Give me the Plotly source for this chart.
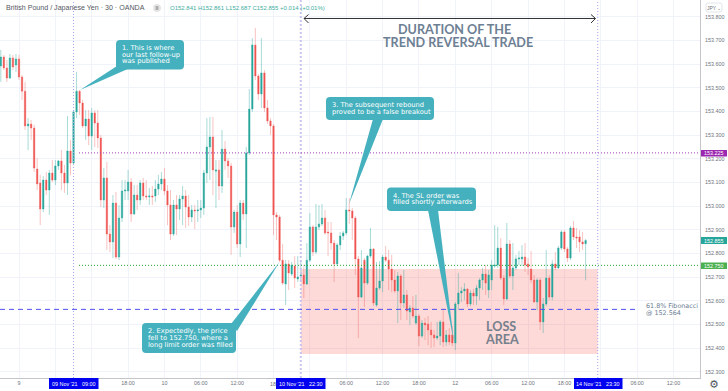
import plotly.graph_objects as go

candle_index = list(range(-6, 188))

opens = [153.592,153.630,153.584,153.541,153.626,153.596,153.622,153.546,153.486,153.339,
153.347,153.330,153.157,153.098,152.988,153.110,153.068,153.140,153.110,153.170,
153.191,153.140,153.098,153.233,153.182,153.398,153.486,153.436,153.339,153.368,
153.296,153.394,153.351,153.288,153.026,153.119,152.882,152.849,153.013,152.785,
152.950,153.064,153.064,153.102,152.967,153.047,153.026,153.098,153.043,153.039,
153.043,153.043,153.072,153.094,153.115,153.064,153.005,152.882,153.005,152.988,
153.030,153.043,152.996,152.954,152.984,152.980,152.984,152.992,153.140,153.250,
153.292,153.148,153.153,153.085,153.241,153.191,153.170,152.912,152.975,152.840,
153.013,152.967,153.225,153.410,153.681,153.550,153.474,153.563,153.415,153.360,
153.339,152.963,152.954,152.772,152.671,152.756,152.713,152.747,152.692,152.705,
152.709,152.671,152.772,152.912,152.806,152.912,152.925,152.950,152.891,152.887,
152.844,152.756,152.836,152.874,152.887,152.984,152.980,152.950,152.777,152.616,
152.772,152.675,152.789,152.819,152.582,152.654,152.684,152.785,152.772,152.734,
152.688,152.642,152.705,152.591,152.625,152.553,152.570,152.506,152.536,152.451,
152.506,152.502,152.477,152.456,152.443,152.451,152.511,152.426,152.456,152.456,
152.422,152.587,152.633,152.642,152.650,152.587,152.633,152.620,152.654,152.688,
152.713,152.646,152.688,152.747,152.751,152.823,152.696,152.608,152.840,152.705,
152.739,152.777,152.777,152.785,152.756,152.734,152.688,152.595,152.688,152.511,
152.587,152.696,152.616,152.756,152.739,152.823,152.891,152.819,152.781,152.908,
152.870,152.870,152.849,152.841]

highs = [153.660,153.639,153.618,153.643,153.639,153.643,153.639,153.554,153.525,153.372,
153.364,153.343,153.203,153.132,153.127,153.144,153.153,153.195,153.195,153.195,
153.237,153.174,153.381,153.280,153.406,153.567,153.491,153.449,153.406,153.406,
153.415,153.406,153.406,153.301,153.161,153.187,152.920,153.047,153.060,153.005,
153.110,153.110,153.153,153.119,153.089,153.089,153.110,153.119,153.110,153.077,
153.085,153.110,153.132,153.144,153.161,153.089,153.068,153.026,153.047,153.047,
153.085,153.068,153.047,153.005,153.005,153.026,153.026,153.153,153.372,153.377,
153.377,153.195,153.195,153.322,153.275,153.203,153.182,152.984,153.005,153.026,
153.026,153.250,153.495,153.710,153.753,153.558,153.710,153.575,153.449,153.372,
153.347,152.975,152.963,152.840,152.772,152.772,152.764,152.789,152.789,152.772,
152.751,152.844,152.971,152.920,153.009,153.005,153.009,152.984,152.933,152.933,
152.857,152.844,152.891,152.895,153.034,153.034,152.992,152.958,152.789,152.815,
152.781,152.794,152.908,152.823,152.764,152.768,152.794,152.832,152.815,152.794,
152.730,152.722,152.713,152.730,152.646,152.582,152.620,152.625,152.544,152.519,
152.527,152.536,152.511,152.477,152.511,152.519,152.561,152.477,152.485,152.494,
152.595,152.718,152.658,152.675,152.654,152.646,152.650,152.667,152.696,152.739,
152.751,152.730,152.772,152.920,152.912,152.865,152.709,152.929,152.857,152.844,
152.794,152.811,152.836,152.844,152.781,152.811,152.709,152.696,152.696,152.612,
152.815,152.709,152.772,152.806,152.832,152.899,152.899,152.827,152.916,152.937,
152.908,152.899,152.891,152.861]

lows = [153.525,153.575,153.525,153.537,153.575,153.567,153.533,153.449,153.322,153.237,
153.280,153.144,153.068,152.920,152.975,153.047,152.963,153.102,153.089,153.153,
153.068,153.056,153.047,153.132,153.174,153.372,153.385,153.330,153.280,153.258,
153.237,153.250,153.246,152.996,152.992,152.815,152.806,152.781,152.777,152.772,
152.933,153.026,153.026,152.933,152.963,152.984,153.005,153.026,153.026,153.005,
153.005,153.018,153.047,153.068,153.047,152.920,152.857,152.874,152.878,152.942,
152.920,152.908,152.916,152.933,152.903,152.933,152.950,152.963,153.098,153.110,
153.047,152.992,153.026,153.056,153.153,153.119,152.794,152.887,152.823,152.785,
152.942,152.823,153.216,153.398,153.533,153.449,153.415,153.398,153.347,153.301,
152.878,152.857,152.764,152.667,152.582,152.646,152.705,152.654,152.680,152.688,
152.612,152.667,152.764,152.789,152.798,152.899,152.916,152.878,152.789,152.815,
152.680,152.747,152.815,152.857,152.878,152.925,152.857,152.709,152.443,152.612,
152.574,152.667,152.781,152.578,152.574,152.646,152.637,152.764,152.646,152.637,
152.633,152.506,152.519,152.570,152.519,152.498,152.527,152.498,152.409,152.443,
152.435,152.413,152.401,152.405,152.435,152.413,152.405,152.409,152.413,152.409,
152.392,152.561,152.595,152.603,152.574,152.578,152.582,152.582,152.603,152.646,
152.625,152.612,152.646,152.739,152.739,152.688,152.582,152.603,152.696,152.646,
152.730,152.751,152.747,152.722,152.709,152.675,152.591,152.561,152.477,152.464,
152.578,152.603,152.603,152.730,152.734,152.815,152.806,152.764,152.772,152.857,
152.823,152.806,152.815,152.687]

closes = [153.630,153.584,153.541,153.626,153.588,153.622,153.546,153.486,153.339,153.347,
153.330,153.161,153.094,152.988,153.110,153.068,153.140,153.110,153.170,153.191,
153.140,153.098,153.233,153.182,153.398,153.486,153.436,153.339,153.368,153.296,
153.394,153.351,153.288,153.026,153.119,152.882,152.849,153.013,152.785,152.950,
153.064,153.068,153.102,152.967,153.047,153.026,153.098,153.043,153.039,153.043,
153.039,153.072,153.094,153.115,153.064,153.005,152.882,153.005,152.988,153.030,
153.043,152.996,152.954,152.984,152.980,152.984,152.992,153.140,153.250,153.292,
153.153,153.153,153.085,153.241,153.191,153.170,152.912,152.975,152.840,153.013,
152.967,153.225,153.410,153.681,153.550,153.474,153.563,153.415,153.360,153.339,
152.963,152.954,152.772,152.675,152.756,152.718,152.751,152.696,152.701,152.709,
152.671,152.772,152.912,152.806,152.912,152.925,152.950,152.887,152.887,152.844,
152.756,152.836,152.874,152.887,152.984,152.980,152.950,152.777,152.616,152.739,
152.675,152.789,152.819,152.591,152.654,152.684,152.785,152.772,152.734,152.688,
152.642,152.705,152.591,152.625,152.557,152.570,152.536,152.536,152.451,152.506,
152.498,152.477,152.456,152.443,152.451,152.511,152.426,152.456,152.426,152.422,
152.587,152.633,152.642,152.650,152.587,152.633,152.620,152.654,152.688,152.713,
152.675,152.709,152.751,152.751,152.823,152.696,152.608,152.840,152.705,152.739,
152.777,152.781,152.785,152.751,152.743,152.688,152.595,152.688,152.511,152.587,
152.696,152.616,152.756,152.739,152.823,152.891,152.819,152.781,152.908,152.870,
152.865,152.849,152.840,152.855]

time_tick_index = list(range(0, 228, 12))
time_tick_labels = ["9","","","18:00","10","06:00","12:00","","","06:00",
                    "12:00","18:00","12","06:00","12:00","18:00","","06:00","12:00"]
price_ticks = [152.3,152.4,152.5,152.6,152.7,152.8,152.9,153.0,153.1,153.2,153.3,153.4,153.5,153.6,153.7,153.8]
price_tick_labels = ["%.3f" % p for p in price_ticks]

resistance = 153.225
entry = 152.750
fibonacci = 152.564
last_close = 152.855
loss_top = 152.735
loss_bottom = 152.375
event_published = 18
event_trade_start = 93
event_trade_end = 191

UP, DOWN = "#26a69a", "#ef5350"
UP_W, DOWN_W = "rgba(38,166,154,0.40)", "rgba(239,83,80,0.35)"
CALLOUT = "#45b1be"
W, H = 728, 391
PLOT_W, PLOT_H = 700, 378
SANS = "DejaVu Sans"
TICKS = "Liberation Sans"

def px(x, y):
    return "%.5f,%.5f" % (x / PLOT_W, 1 - y / PLOT_H)

def path_shape(points, fill=None, color=None, width=0):
    d = "M" + " L".join(px(*p) for p in points)
    if fill:
        d += " Z"
    s = dict(type="path", xref="paper", yref="paper", path=d, layer="above",
             line=dict(width=width, color=color or "rgba(0,0,0,0)"))
    s["fillcolor"] = fill if fill else "rgba(0,0,0,0)"
    return s

def round_box(x0, y0, x1, y1, fill, r=4, color=None, width=0):
    d = ("M" + px(x0 + r, y0) + " L" + px(x1 - r, y0) + " Q" + px(x1, y0) + " " + px(x1, y0 + r)
         + " L" + px(x1, y1 - r) + " Q" + px(x1, y1) + " " + px(x1 - r, y1)
         + " L" + px(x0 + r, y1) + " Q" + px(x0, y1) + " " + px(x0, y1 - r)
         + " L" + px(x0, y0 + r) + " Q" + px(x0, y0) + " " + px(x0 + r, y0) + " Z")
    return dict(type="path", xref="paper", yref="paper", path=d, fillcolor=fill, layer="above",
                line=dict(width=width, color=color or "rgba(0,0,0,0)"))

def rect(x0, y0, x1, y1, fill):
    return dict(type="rect", xref="paper", yref="paper", x0=x0 / PLOT_W, x1=x1 / PLOT_W,
                y0=1 - y0 / PLOT_H, y1=1 - y1 / PLOT_H, fillcolor=fill, line=dict(width=0), layer="above")

def text(x, y, s, size=6.7, color="white", anchor="left", family=SANS, bold=False):
    if bold:
        s = "<b>" + s + "</b>"
    return dict(x=x / PLOT_W, y=1 - y / PLOT_H, xref="paper", yref="paper", text=s, showarrow=False,
                xanchor=anchor, yanchor="middle", borderpad=0,
                font=dict(size=size, color=color, family=family))

fig = go.Figure()
fig.add_trace(go.Candlestick(
    x=candle_index, open=opens, high=highs, low=lows, close=closes, whiskerwidth=0,
    increasing=dict(line=dict(color=UP_W, width=1), fillcolor="rgba(0,0,0,0)"),
    decreasing=dict(line=dict(color=DOWN_W, width=1), fillcolor="rgba(0,0,0,0)"),
    showlegend=False, hoverinfo="skip"))
fig.add_trace(go.Candlestick(
    x=candle_index, open=opens, close=closes,
    high=[max(o, c) for o, c in zip(opens, closes)],
    low=[min(o, c) for o, c in zip(opens, closes)], whiskerwidth=0,
    increasing=dict(line=dict(color=UP, width=0), fillcolor=UP),
    decreasing=dict(line=dict(color=DOWN, width=0), fillcolor=DOWN),
    showlegend=False))

DOTS = "1px,2px"
shapes = [
    dict(type="rect", xref="x", yref="y", x0=event_trade_start, x1=event_trade_end, y0=loss_bottom, y1=loss_top,
         fillcolor="rgba(244,67,54,0.2)", line=dict(width=0), layer="between"),
    dict(type="line", xref="x", yref="paper", x0=event_published, x1=event_published, y0=0, y1=1,
         line=dict(color="#a5a5ee", width=1, dash=DOTS), layer="above"),
    dict(type="line", xref="x", yref="paper", x0=event_trade_start, x1=event_trade_start, y0=0, y1=1,
         line=dict(color="#c9c4ee", width=2, dash="2px,2px"), layer="above"),
    dict(type="line", xref="x", yref="paper", x0=event_trade_end, x1=event_trade_end, y0=0, y1=1,
         line=dict(color="#a5a5ee", width=1, dash=DOTS), layer="above"),
    dict(type="line", xref="paper", yref="y", x0=79 / PLOT_W, x1=1, y0=resistance, y1=resistance,
         line=dict(color="#a23cb5", width=1, dash=DOTS), layer="above"),
    dict(type="line", xref="paper", yref="y", x0=79 / PLOT_W, x1=1, y0=entry, y1=entry,
         line=dict(color="#22aa33", width=1, dash=DOTS), layer="above"),
    dict(type="line", xref="paper", yref="y", x0=0, x1=638 / PLOT_W, y0=fibonacci, y1=fibonacci,
         line=dict(color="#4f4ff0", width=1, dash="5px,4px"), layer="above"),
    # duration arrow
    path_shape([(304, 18.5), (595.5, 18.5)], color="#333", width=1),
    path_shape([(308.5, 14.5), (304, 18.5), (308.5, 23)], color="#333", width=1),
    path_shape([(591, 14.5), (595.5, 18.5), (591, 23)], color="#333", width=1),
    # callouts
    path_shape([(80, 90), (117, 66), (130, 68)], fill=CALLOUT),
    round_box(116, 40, 184, 69.5, CALLOUT),
    path_shape([(279.5, 262), (231, 324), (237, 331)], fill=CALLOUT),
    round_box(142, 323, 236, 353, CALLOUT),
    path_shape([(349, 204), (373, 119), (383, 119)], fill=CALLOUT),
    round_box(326, 97, 434, 120, CALLOUT),
    path_shape([(454, 342), (428, 210), (438, 210)], fill=CALLOUT),
    round_box(387, 187.5, 476, 211, CALLOUT),
    # price labels
    rect(701, 150, 727, 156.5, "#9c27b0"),
    rect(701, 237, 727, 244, "#26a69a"),
    rect(701, 262.5, 727, 269, "#4caf50"),
    # date labels
    rect(49, 378, 98.5, 389, "#0000f0"),
    rect(276, 378, 325.5, 389, "#0000f0"),
    rect(574, 378, 622.5, 389, "#0000f0"),
    # header icons
    dict(type="circle", xref="paper", yref="paper", x0=153 / PLOT_W, x1=161 / PLOT_W,
         y0=1 - 12 / PLOT_H, y1=1 - 4 / PLOT_H, fillcolor="#e6e6e6", line=dict(width=0), layer="above"),
    rect(155.5, 6.5, 158.5, 7.5, "#777"),
    rect(155.5, 8.5, 158.5, 9.5, "#777"),
    round_box(706, 3, 722, 12, "white", r=2, color="#e3e5ea", width=1),
]

ann = [
    text(5, 8.5, "British Pound / Japanese Yen · 30 · OANDA", size=7.1, color="#555963", family=TICKS),
    text(169, 8.5, "O152.841 H152.861 L152.687 C152.855 +0.014 (+0.01%)", size=6, color="#3fae9f", family=TICKS),
    text(714, 7.5, "JPY ⌄", size=5, color="#6f737d", anchor="center", family=TICKS),
    text(454, 30, "DURATION OF THE", size=12.6, color="#6d8093", anchor="center", family="Lato", bold=True),
    text(458, 43, "TREND REVERSAL TRADE", size=12.6, color="#6d8093", anchor="center", family="Lato", bold=True),
    text(500.5, 326, "LOSS", size=12.6, color="#75808c", anchor="center", family="Lato", bold=True),
    text(501.5, 339.5, "AREA", size=12.6, color="#75808c", anchor="center", family="Lato", bold=True),
    text(645, 306, "61.8% Fibonacci", size=6.4, color="#6d8093"),
    text(645, 312.8, "@ 152.564", size=6.4, color="#6d8093"),
    text(121, 47.5, "1. This is where"), text(121, 54.5, "our last follow-up"), text(121, 61.5, "was published"),
    text(147, 330.5, "2. Expectedly, the price"), text(147, 337.5, "fell to 152.750, where a"),
    text(147, 344.5, "long limit order was filled"),
    text(331, 105, "3. The subsequent rebound"), text(331, 111.5, "proved to be a false breakout"),
    text(392, 195.5, "4. The SL order was"), text(392, 202, "filled shortly afterwards"),
    text(714, 153.3, "153.225", size=5.4, anchor="center", family=TICKS),
    text(714, 240.5, "152.855", size=5.4, anchor="center", family=TICKS),
    text(714, 265.8, "152.750", size=5.4, anchor="center", family=TICKS),
    text(73.7, 383.5, "09 Nov '21   09:00", size=5.4, anchor="center", family=TICKS),
    text(300.7, 383.5, "10 Nov '21   22:30", size=5.4, anchor="center", family=TICKS),
    text(598.2, 383.5, "14 Nov '21   23:30", size=5.4, anchor="center", family=TICKS),
    text(269, 384, "18:", size=5.4, color="#6f737d", family=TICKS),
    text(714, 384, "⚙", size=11, color="#50535e", anchor="center"),
]

fig.update_layout(
    width=W, height=H, margin=dict(l=0, r=W - PLOT_W, t=0, b=H - PLOT_H),
    paper_bgcolor="white", plot_bgcolor="white", showlegend=False, boxgap=0.3, boxmode="overlay",
    shapes=shapes, annotations=ann,
    xaxis=dict(range=[-6.27, 224.75], tickmode="array", tickvals=time_tick_index, ticktext=time_tick_labels,
               rangeslider=dict(visible=False), showgrid=True, gridcolor="#f0f3fa", gridwidth=1,
               showline=True, linecolor="#c3c5cb", linewidth=1, ticks="", zeroline=False,
               tickfont=dict(size=5.4, color="#6f737d", family=TICKS)),
    yaxis=dict(range=[152.274, 153.871], side="right", tickmode="array", tickvals=price_ticks,
               ticktext=price_tick_labels, showgrid=True, gridcolor="#f0f3fa", gridwidth=1,
               showline=True, linecolor="#c3c5cb", linewidth=1, ticks="", zeroline=False, ticklabelstandoff=3,
               tickfont=dict(size=5.4, color="#6f737d", family=TICKS)),
)

fig.write_html("out.html", config={"displayModeBar": False},
               post_script="document.body.style.margin='0';document.body.style.overflow='hidden';")
